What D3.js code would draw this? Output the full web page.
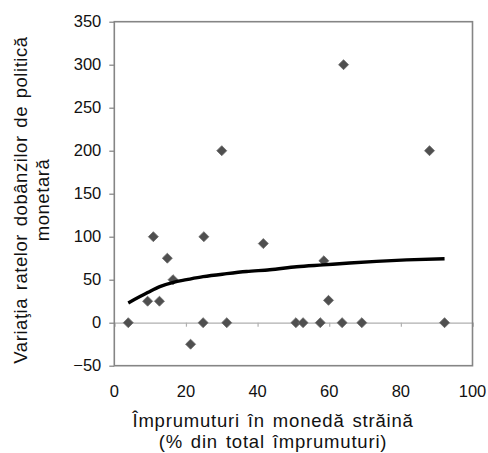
<!DOCTYPE html>
<html><head><meta charset="utf-8">
<script src="https://cdn.jsdelivr.net/npm/d3@7"></script>
<style>body{margin:0;background:#fff}svg{display:block}</style>
</head><body>
<script>
// Scatter data: foreign-currency loans (% of total) vs change in policy rates
const pointX = [3.9, 9.3, 10.9, 12.6, 14.8, 16.4, 21.3, 25.0, 24.8, 31.4, 30.0, 64.0, 88.0, 41.6, 58.5, 59.8, 50.7, 52.7, 57.5, 63.6, 69.1, 92.2];
const pointY = [0, 25, 100, 25, 75, 50, -25, 100, 0, 0, 200, 300, 200, 92, 72, 26, 0, 0, 0, 0, 0, 0];
// Trend line
const trendX = [3.9, 9.3, 12.7, 16.5, 20.2, 24.8, 31.4, 36.9, 43.4, 50.9, 58.3, 65.7, 73.2, 81.6, 92.2];
const trendY = [23, 35, 42, 47, 50, 53.5, 57, 59.5, 61.5, 65, 67.2, 69.4, 71.3, 73, 74.4];
const xTicks = [0, 20, 40, 60, 80, 100];
const yTicks = [-50, 0, 50, 100, 150, 200, 250, 300, 350];
const xTitle = ["Împrumuturi în monedă străină", "(% din total împrumuturi)"];
const yTitle = ["Variaţia ratelor dobânzilor de politică", "monetară"];

const W = 488, H = 453;
const L = 114.3, R = 472.5, T = 21.7, B = 365.7;
const font = "'Liberation Sans', Arial, sans-serif";

const svg = d3.select("body").append("svg").attr("width", W).attr("height", H);
const x = d3.scaleLinear().domain([0, 100]).range([L, R]);
const y = d3.scaleLinear().domain([-50, 350]).range([B, T]);

// zero line with ticks
const xAxis = svg.append("g").attr("transform", `translate(0,${y(0)})`)
  .call(d3.axisBottom(x).tickValues(xTicks).tickSize(4).tickFormat(""));
xAxis.select(".domain").attr("stroke", "#b0b0b0").attr("stroke-width", 1.2);
xAxis.selectAll(".tick line").attr("stroke", "#b0b0b0").attr("stroke-width", 1.2);

// x tick labels at bottom
svg.append("g").selectAll("text").data(xTicks).join("text")
  .attr("x", d => x(d)).attr("y", 397).attr("text-anchor", "middle")
  .attr("font-family", font).attr("font-size", 16.5).attr("fill", "#111").text(d => d);

// y axis
const yAxis = svg.append("g").attr("transform", `translate(${L},0)`)
  .call(d3.axisLeft(y).tickValues(yTicks).tickSize(5).tickPadding(8).tickSizeOuter(0));
yAxis.select(".domain").remove();
yAxis.selectAll(".tick line").attr("stroke", "#808080").attr("stroke-width", 1.2);
yAxis.selectAll(".tick text").attr("font-family", font).attr("font-size", 16.5).attr("fill", "#111");

// frame
svg.append("rect").attr("x", x(0)).attr("y", y(350)).attr("width", x(100) - x(0)).attr("height", y(-50) - y(350))
  .attr("fill", "none").attr("stroke", "#858585").attr("stroke-width", 1.6);

// points
const pts = pointX.map((v, i) => [v, pointY[i]]);
svg.append("g").selectAll("path").data(pts).join("path")
  .attr("transform", d => `translate(${x(d[0])},${y(d[1])})`)
  .attr("d", d3.symbol(d3.symbolDiamond2, 64)())
  .attr("fill", "#4f4f4f").attr("stroke", "#6a6a6a").attr("stroke-width", 0.8);

// trend line
const tr = trendX.map((v, i) => [v, trendY[i]]);
svg.append("path").datum(tr)
  .attr("d", d3.line().x(d => x(d[0])).y(d => y(d[1])).curve(d3.curveMonotoneX))
  .attr("fill", "none").attr("stroke", "#000").attr("stroke-width", 3.4);

// x title
svg.append("g").selectAll("text").data(xTitle).join("text")
  .attr("x", 273).attr("y", (d, i) => 427 + i * 21).attr("text-anchor", "middle")
  .attr("font-family", font).attr("font-size", 18.5).attr("letter-spacing", 0.8).attr("word-spacing", 2)
  .attr("fill", "#111").text(d => d);

// y title
svg.append("g").selectAll("text").data(yTitle).join("text")
  .attr("transform", (d, i) => `translate(${27 + i * 22},200) rotate(-90)`)
  .attr("text-anchor", "middle")
  .attr("font-family", font).attr("font-size", 18.5).attr("letter-spacing", 0.55).attr("word-spacing", 2)
  .attr("fill", "#111").text(d => d);
</script>
</body></html>
